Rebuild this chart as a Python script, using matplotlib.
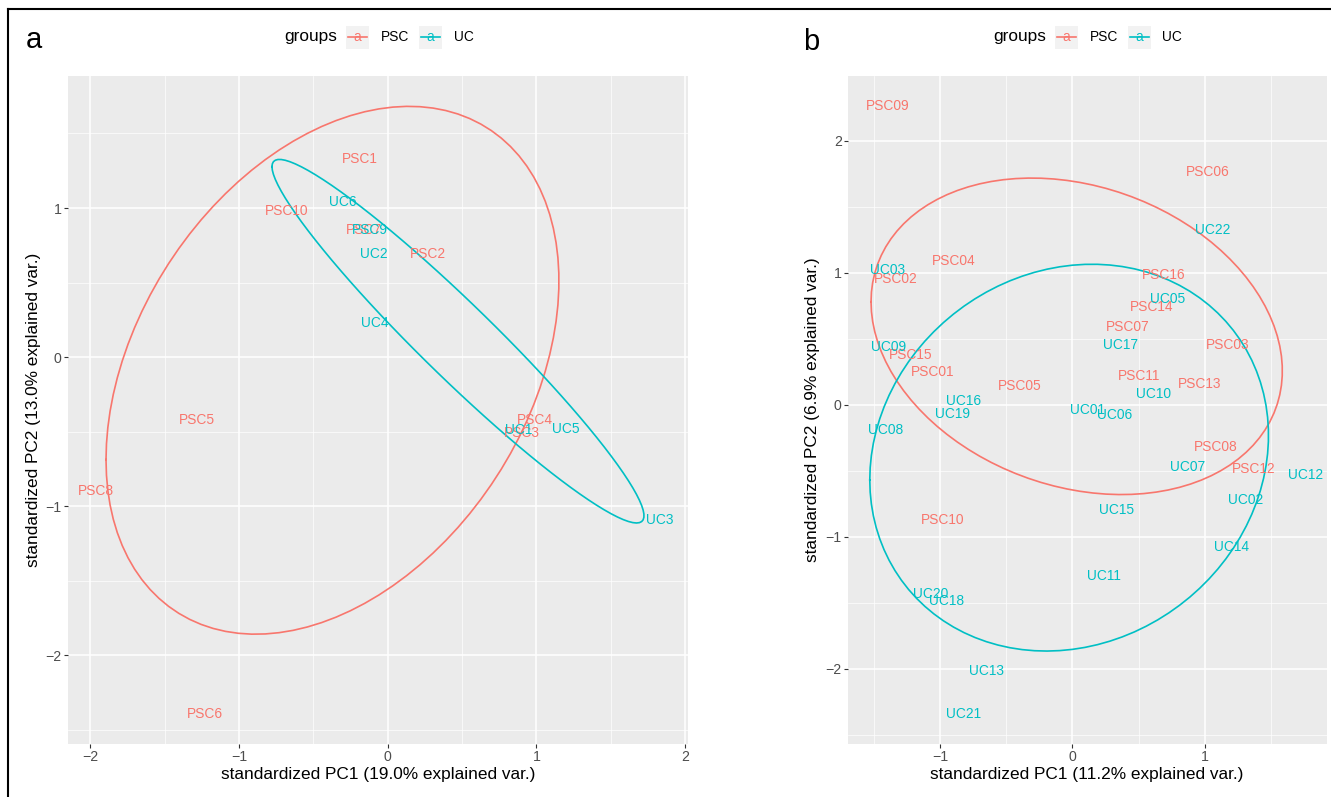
import matplotlib.pyplot as plt
import numpy as np
from matplotlib.patches import Rectangle
from matplotlib.lines import Line2D

plt.rcParams['font.family'] = ['Liberation Sans', 'DejaVu Sans']

# ---- panel a data (standardized PC scores) ----
a_psc_labels = ["PSC1", "PSC10", "PSC7", "PSC2", "PSC4", "PSC3", "PSC5", "PSC6", "PSC8"]
a_psc_x = [-0.19, -0.68, -0.16, 0.27, 0.99, 0.90, -1.28, -1.23, -1.96]
a_psc_y = [1.33, 0.98, 0.85, 0.69, -0.42, -0.51, -0.42, -2.39, -0.90]

a_uc_labels = ["UC6", "PSC9", "UC2", "UC4", "UC1", "UC5", "UC3"]
a_uc_x = [-0.30, -0.12, -0.09, -0.09, 0.88, 1.20, 1.83]
a_uc_y = [1.04, 0.85, 0.69, 0.23, -0.49, -0.48, -1.09]

# ---- panel b data ----
b_psc_labels = ["PSC01", "PSC02", "PSC03", "PSC04", "PSC05", "PSC06", "PSC07", "PSC08",
                "PSC09", "PSC10", "PSC11", "PSC12", "PSC13", "PSC14", "PSC15", "PSC16"]
b_psc_x = [-1.06, -1.34, 1.17, -0.90, -0.40, 1.02, 0.42, 1.08,
           -1.40, -0.98, 0.50, 1.37, 0.96, 0.60, -1.22, 0.69]
b_psc_y = [0.25, 0.95, 0.45, 1.09, 0.14, 1.76, 0.59, -0.32,
           2.26, -0.87, 0.22, -0.49, 0.16, 0.74, 0.38, 0.98]

b_uc_labels = ["UC01", "UC02", "UC03", "UC05", "UC06", "UC07", "UC08", "UC09", "UC10", "UC11",
               "UC12", "UC13", "UC14", "UC15", "UC16", "UC17", "UC18", "UC19", "UC20", "UC21", "UC22"]
b_uc_x = [0.11, 1.31, -1.40, 0.72, 0.32, 0.87, -1.41, -1.39, 0.61, 0.24,
          1.76, -0.65, 1.20, 0.33, -0.82, 0.36, -0.95, -0.91, -1.07, -0.82, 1.06]
b_uc_y = [-0.04, -0.72, 1.02, 0.80, -0.08, -0.47, -0.19, 0.44, 0.08, -1.30,
          -0.53, -2.02, -1.08, -0.80, 0.03, 0.45, -1.49, -0.07, -1.43, -2.34, 1.32]

a_xlabel = "standardized PC1 (19.0% explained var.)"
a_ylabel = "standardized PC2 (13.0% explained var.)"
b_xlabel = "standardized PC1 (11.2% explained var.)"
b_ylabel = "standardized PC2 (6.9% explained var.)"

PSC_COL = "#F8766D"
UC_COL = "#00BFC4"
W, H = 1331, 797


def ellipse_path(xs, ys, prob=0.68, n=100):
    # same construction as ggbiplot: mean + circle * chol(cov) * sqrt(qchisq(prob, 2))
    pts = np.column_stack([xs, ys])
    mu = pts.mean(axis=0)
    sigma = np.cov(pts, rowvar=False)
    ed = np.sqrt(-2 * np.log(1 - prob))
    theta = np.linspace(-np.pi, np.pi, n)
    circle = np.column_stack([np.cos(theta), np.sin(theta)])
    ell = circle @ np.linalg.cholesky(sigma).T * ed + mu
    return ell[:, 0], ell[:, 1]


def fx(px):
    return px / W


def fy(py):
    return 1 - py / H


def draw_panel(ax, groups, xmaj, ymaj):
    ax.set_facecolor("#EBEBEB")
    allx, ally = [], []
    for labels, xs, ys, col in groups:
        ex, ey = ellipse_path(xs, ys)
        ax.plot(ex, ey, color=col, lw=1.2, zorder=3)
        for lab, x, y in zip(labels, xs, ys):
            ax.text(x, y, lab, color=col, fontsize=9.9, ha="center", va="center",
                    zorder=4, clip_on=True)
        allx += list(xs) + list(ex)
        ally += list(ys) + list(ey)
    ax.set_xticks(xmaj)
    ax.set_yticks(ymaj)
    ax.set_xticks(np.arange(xmaj[0] - 0.5, xmaj[-1] + 1, 1.0), minor=True)
    ax.set_yticks(np.arange(ymaj[0] - 0.5, ymaj[-1] + 1, 1.0), minor=True)
    # limits after the ticks, 5% expansion like ggplot
    x0, x1 = min(allx), max(allx)
    y0, y1 = min(ally), max(ally)
    dx, dy = (x1 - x0) * 0.05, (y1 - y0) * 0.05
    ax.set_xlim(x0 - dx, x1 + dx)
    ax.set_ylim(y0 - dy, y1 + dy)
    ax.grid(which="major", color="white", lw=1.1, zorder=0)
    ax.grid(which="minor", color="white", lw=0.5, zorder=0)
    ax.set_axisbelow(True)
    for s in ax.spines.values():
        s.set_visible(False)
    ax.tick_params(which="major", length=3, width=0.8, color="#333333",
                   labelcolor="#4D4D4D", labelsize=10.2, pad=1.5)
    ax.tick_params(which="minor", length=0)


def draw_legend(gx, keys, labs, yc=37):
    fig.text(fx(gx), fy(yc), "groups", fontsize=12.4, ha="left", va="center")
    for kx, lx, col, name in zip(keys, labs, [PSC_COL, UC_COL], ["PSC", "UC"]):
        fig.add_artist(Rectangle((fx(kx), fy(yc + 11.5)), 23 / W, 23 / H,
                                 transform=fig.transFigure, facecolor="#F2F2F2",
                                 edgecolor="none"))
        fig.add_artist(Line2D([fx(kx + 2), fx(kx + 21)], [fy(yc), fy(yc)],
                              transform=fig.transFigure, color=col, lw=1.2))
        fig.text(fx(kx + 11.5), fy(yc), "a", color=col, fontsize=9.9,
                 ha="center", va="center")
        fig.text(fx(lx), fy(yc), name, fontsize=9.9, ha="left", va="center")


fig = plt.figure(figsize=(W / 100, H / 100), dpi=100)

ax_a = fig.add_axes([fx(68), fy(744), 620 / W, 668 / H])
draw_panel(ax_a, [(a_psc_labels, a_psc_x, a_psc_y, PSC_COL),
                  (a_uc_labels, a_uc_x, a_uc_y, UC_COL)],
           [-2, -1, 0, 1, 2], [-2, -1, 0, 1])

ax_b = fig.add_axes([fx(848), fy(744), 479 / W, 668 / H])
draw_panel(ax_b, [(b_psc_labels, b_psc_x, b_psc_y, PSC_COL),
                  (b_uc_labels, b_uc_x, b_uc_y, UC_COL)],
           [-1, 0, 1], [-2, -1, 0, 1, 2])

# axis titles
fig.text(fx(378), fy(775), a_xlabel, fontsize=12.4, ha="center", va="center")
fig.text(fx(34), fy(410), a_ylabel, fontsize=12.4, ha="center", va="center", rotation=90)
fig.text(fx(1087), fy(775), b_xlabel, fontsize=12.4, ha="center", va="center")
fig.text(fx(812), fy(410), b_ylabel, fontsize=12.4, ha="center", va="center", rotation=90)

# panel tags
fig.text(fx(34), fy(48), "a", fontsize=21, ha="center", va="baseline")
fig.text(fx(811), fy(50), "b", fontsize=21, ha="center", va="baseline")

draw_legend(284, [346, 419], [381, 454])
draw_legend(993, [1055, 1128], [1090, 1162])

# frame lines of the original figure
fig.add_artist(Line2D([fx(8), 1], [fy(9), fy(9)], transform=fig.transFigure,
                      color="black", lw=1.5))
fig.add_artist(Line2D([fx(8), fx(8)], [fy(9), 0], transform=fig.transFigure,
                      color="black", lw=1.5))

fig.savefig("out.png", dpi=100)
